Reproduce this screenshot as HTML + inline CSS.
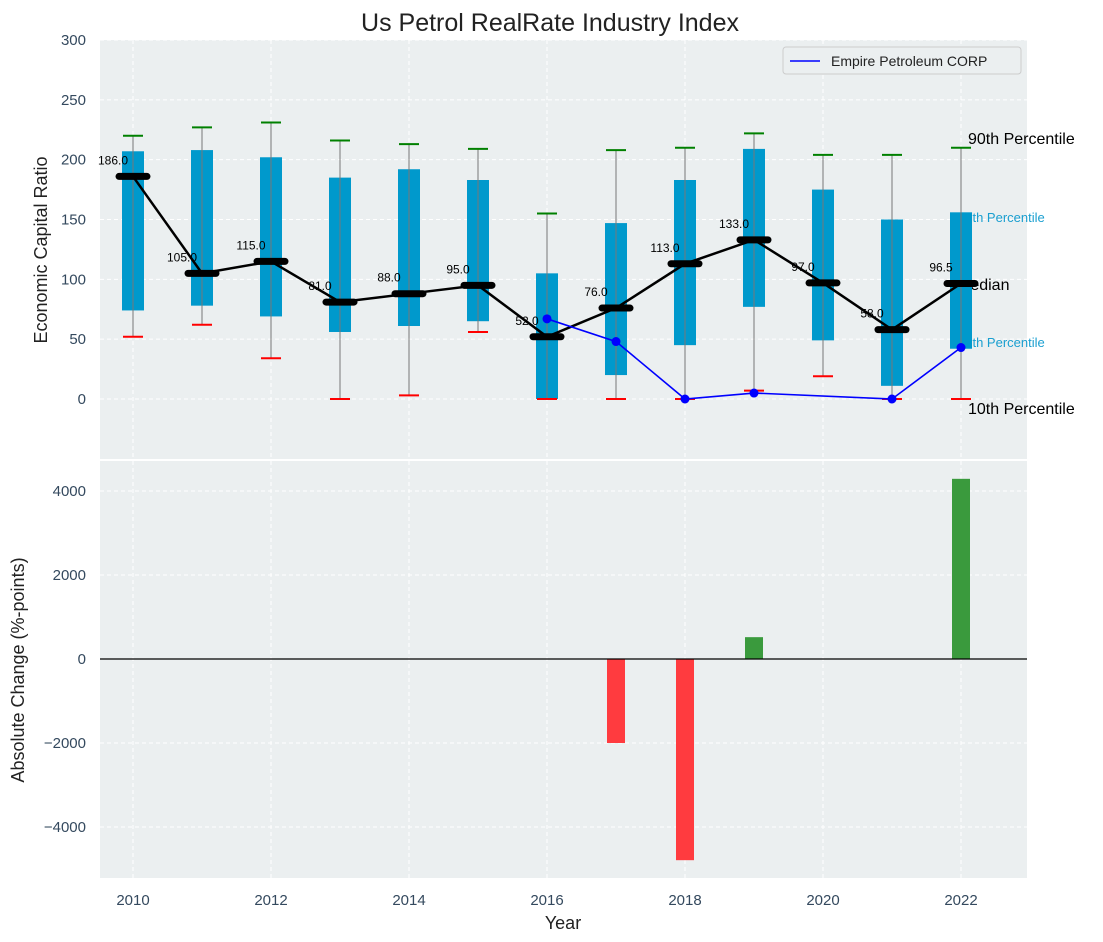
<!DOCTYPE html>
<html><head><meta charset="utf-8"><style>
body{margin:0;background:#fff;}
svg{display:block;font-family:"Liberation Sans","DejaVu Sans",sans-serif;}
</style></head><body>
<svg id="chart" width="1103" height="942" xmlns="http://www.w3.org/2000/svg"></svg>
<script>
const years=[2010,2011,2012,2013,2014,2015,2016,2017,2018,2019,2020,2021,2022];
const p90=[220,227,231,216,213,209,155,208,210,222,204,204,210];
const p75=[207,208,202,185,192,183,105,147,183,209,175,150,156];
const median=[186,105,115,81,88,95,52,76,113,133,97,58,96.5];
const p25=[74,78,69,56,61,65,0,20,45,77,49,11,42];
const p10=[52,62,34,0,3,56,0,0,0,7,19,0,0];
const compYears=[2016,2017,2018,2019,2021,2022];
const compValues=[67,48,0,5,0,43];
const changeYears=[2017,2018,2019,2022];
const changeValues=[-2000,-4790,520,4290];
const topTicks=[0,50,100,150,200,250,300];
const botTicks=[-4000,-2000,0,2000,4000];
const xTicks=[2010,2012,2014,2016,2018,2020,2022];

const NS="http://www.w3.org/2000/svg";
const svg=document.getElementById('chart');
function mk(tag,attrs,parent){const e=document.createElementNS(NS,tag);for(const k in attrs)e.setAttribute(k,attrs[k]);(parent||svg).appendChild(e);return e;}
const L=100,R=1027;
const x=v=>133+(v-2010)*69;
const yT=v=>399-v*1.1967;
const yB=v=>659-v*0.042;
const T1=40,B1=459,T2=461,B2=878;

let e;
e=mk('rect',{x:L,y:T1,width:R-L,height:B1-T1,fill:'#ebeff0'});

e=mk('rect',{x:L,y:T2,width:R-L,height:B2-T2,fill:'#ebeff0'});


xTicks.forEach(t=>{
  mk('line',{x1:x(t),x2:x(t),y1:T1,y2:B1,stroke:'#fff','stroke-dasharray':'4,3','stroke-width':1});
  mk('line',{x1:x(t),x2:x(t),y1:T2,y2:B2,stroke:'#fff','stroke-dasharray':'4,3','stroke-width':1});
  e=mk('text',{x:x(t),y:905,'text-anchor':'middle','font-size':15,fill:'#34495e'});e.textContent=t;
  
});
topTicks.forEach(t=>{
  mk('line',{x1:L,x2:R,y1:yT(t),y2:yT(t),stroke:'#fff','stroke-dasharray':'4,3','stroke-width':1});
  e=mk('text',{x:86,y:yT(t)+5,'text-anchor':'end','font-size':15,fill:'#34495e'});e.textContent=t;
  
});
botTicks.forEach(t=>{
  mk('line',{x1:L,x2:R,y1:yB(t),y2:yB(t),stroke:'#fff','stroke-dasharray':'4,3','stroke-width':1});
  e=mk('text',{x:86,y:yB(t)+5,'text-anchor':'end','font-size':15,fill:'#34495e'});e.textContent=(t<0?'\u2212'+(-t):t);
  
});

const side=[['90th Percentile',968,144,'#000',16],['75th Percentile',958,222,'#1a9fd0',13],['Median',957,290,'#000',16],['25th Percentile',958,347,'#1a9fd0',13],['10th Percentile',968,414,'#000',16]];
side.forEach(s=>{e=mk('text',{x:s[1],y:s[2],'font-size':s[4],fill:s[3]});e.textContent=s[0];
  });

years.forEach((yr,i)=>{
  const cx=x(yr);
  e=mk('rect',{x:cx-11,y:yT(p75[i]),width:22,height:yT(p25[i])-yT(p75[i]),fill:'#0099cc'});
  
  e=mk('line',{x1:cx,x2:cx,y1:yT(p90[i]),y2:yT(p10[i]),stroke:'#777','stroke-width':1});
  
  e=mk('line',{x1:cx-10,x2:cx+10,y1:yT(p90[i]),y2:yT(p90[i]),stroke:'green','stroke-width':2});
  
  e=mk('line',{x1:cx-10,x2:cx+10,y1:yT(p10[i]),y2:yT(p10[i]),stroke:'red','stroke-width':2});
  
});
e=mk('polyline',{points:years.map((yr,i)=>x(yr)+','+yT(median[i])).join(' '),fill:'none',stroke:'#000','stroke-width':2.5});

years.forEach((yr,i)=>{
  const cx=x(yr),cy=yT(median[i]);
  e=mk('line',{x1:cx-14,x2:cx+14,y1:cy,y2:cy,stroke:'#000','stroke-width':7,'stroke-linecap':'round'});
  
  e=mk('text',{x:cx-20,y:cy-12,'text-anchor':'middle','font-size':12,fill:'#000'});e.textContent=median[i].toFixed(1);
  
});
e=mk('polyline',{points:compYears.map((yr,i)=>x(yr)+','+yT(compValues[i])).join(' '),fill:'none',stroke:'blue','stroke-width':1.6});

compYears.forEach((yr,i)=>{e=mk('circle',{cx:x(yr),cy:yT(compValues[i]),r:4.5,fill:'blue'});
  });

e=mk('rect',{x:783,y:47,width:238,height:27,fill:'#ebeff0',stroke:'#ccc',rx:3});

mk('line',{x1:790,x2:820,y1:61,y2:61,stroke:'blue','stroke-width':1.6});
e=mk('text',{x:831,y:66,'font-size':14,fill:'#222'});e.textContent='Empire Petroleum CORP';


changeYears.forEach((yr,i)=>{
  const v=changeValues[i];const y0=yB(0),y1=yB(v);
  e=mk('rect',{x:x(yr)-9,y:Math.min(y0,y1),width:18,height:Math.abs(y1-y0),fill:v<0?'#ff3b3f':'#3a9a3d'});
  
});
mk('line',{x1:L,x2:R,y1:yB(0),y2:yB(0),stroke:'#000','stroke-width':1.2});

e=mk('text',{x:550,y:31,'text-anchor':'middle','font-size':25,fill:'#222'});e.textContent='Us Petrol RealRate Industry Index';

e=mk('text',{x:563,y:929,'text-anchor':'middle','font-size':18,fill:'#222'});e.textContent='Year';

e=mk('text',{x:0,y:0,'text-anchor':'middle','font-size':18,fill:'#222',transform:'translate(47,250) rotate(-90)'});e.textContent='Economic Capital Ratio';

e=mk('text',{x:0,y:0,'text-anchor':'middle','font-size':18,fill:'#222',transform:'translate(24,670) rotate(-90)'});e.textContent='Absolute Change (%-points)';

</script>
</body></html>
